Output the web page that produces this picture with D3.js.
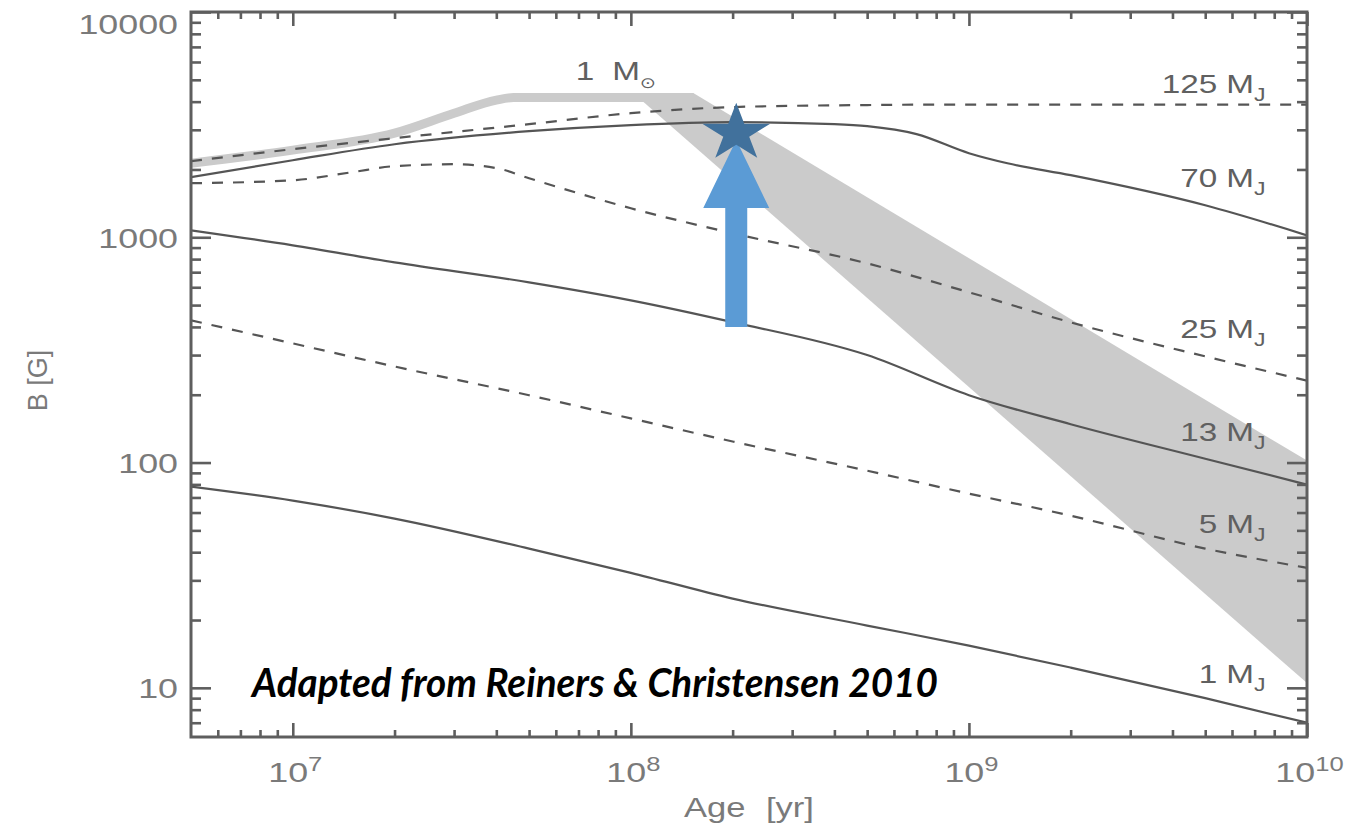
<!DOCTYPE html>
<html>
<head>
<meta charset="utf-8">
<script src="https://cdn.jsdelivr.net/npm/d3@7"></script>
<style>
  html, body { margin: 0; padding: 0; background: #ffffff; }
  svg { display: block; }
</style>
</head>
<body>
<svg id="chart" width="1354" height="830"></svg>
<script>
// ---- Field strength B [G] against age [yr] for objects of different mass ----
const ageGrid = [5e6, 1e7, 2e7, 5e7, 1e8, 2e8, 5e8, 1e9, 2e9, 5e9, 1e10];

const b1MJ  = [78.2, 67.8, 56.4, 41.5, 32.4, 24.9, 18.9, 15.4, 12.3, 9.0, 7.0];
const b5MJ  = [428, 338, 267, 199, 157, 124, 92, 72.8, 58.1, 41.5, 34.1];
const b13MJ = [1074, 921, 774, 631, 525, 420, 300, 199, 148, 104, 79.8];

const age25MJ = [5e6, 1e7, 1.5e7, 2e7, 3e7, 4e7, 5e7, 7e7, 1e8, 2e8, 5e8, 1e9, 2e9, 5e9, 1e10];
const b25MJ   = [1738, 1791, 1945, 2069, 2110, 2028, 1828, 1568, 1345, 1042, 766, 570, 419, 296, 231];

const age70MJ = [5e6, 1e7, 2e7, 5e7, 1e8, 2e8, 4e8, 5e8, 7e8, 1e9, 1.3e9, 2e9, 5e9, 1e10];
const b70MJ   = [1848, 2198, 2588, 2958, 3148, 3243, 3177, 3113, 2870, 2362, 2131, 1887, 1387, 1020];

const age125MJ = [5e6, 1e7, 2e7, 5e7, 1e8, 2e8, 5e8, 1e9, 1e10];
const b125MJ   = [2177, 2461, 2754, 3178, 3556, 3784, 3864, 3883, 3883];

// one solar mass track and its spin-down band
const ageSun = [5e6, 1e7, 2e7, 3e7, 4e7, 4.5e7, 1.53e8];
const bSun   = [2133, 2437, 2897, 3550, 4064, 4168, 4168];
const bandUpper = [[1.09e8, 4365], [1.53e8, 4365], [1e10, 102]];
const bandLower = [[1.09e8, 3981], [1e10, 10.5]];

// curve labels: mass and the field value at the label baseline
const labelMass = ["125", "70", "25", "13", "5", "1"];
const labelB    = [4365, 1668, 356, 125, 48.9, 10.5];
const labelAge  = 5.77e9;
const sunLabelAge = 8.81e7, sunLabelB = 4990;

// axis ticks
const xTickExponents = [7, 8, 9, 10];
const yTickLabels = [10, 100, 1000, 10000];

// highlighted object
const starAge = 2.05e8, starB = 2900;
const arrowFromB = 400, arrowToB = 2700;

const note = "Adapted from Reiners & Christensen 2010";

// ---- layout ----
const plot = { left: 191, right: 1307, top: 12, bottom: 737 };
const sx = 1.28;               // horizontal glyph stretch of the figure
const axisGrey = "#5e5e5e";
const lineGrey = "#555555";
const textGrey = "#7a7a7a";
const labelGrey = "#606060";
const bandGrey = "#cbcbcb";

const svg = d3.select("#chart");

const x = d3.scaleLog().domain([5e6, 1e10]).range([plot.left, plot.right]);
const y = d3.scaleLog().domain([6.05, 1e4]).range([plot.bottom, plot.top]);

svg.append("defs").append("clipPath").attr("id", "plotClip")
  .append("rect")
  .attr("x", plot.left).attr("y", plot.top)
  .attr("width", plot.right - plot.left).attr("height", plot.bottom - plot.top);

const plotArea = svg.append("g").attr("clip-path", "url(#plotClip)");

const line = d3.line()
  .x(d => x(d[0])).y(d => y(d[1]))
  .curve(d3.curveMonotoneX);
const straight = d3.line().x(d => x(d[0])).y(d => y(d[1]));

// spin-down band
const bandPts = bandUpper.concat(bandLower.slice().reverse());
plotArea.append("path")
  .attr("d", straight(bandPts) + "Z")
  .attr("fill", bandGrey);

// solar-mass track (thick, light)
plotArea.append("path")
  .attr("d", line(ageSun.map((a, i) => [a, bSun[i]])))
  .attr("fill", "none")
  .attr("stroke", bandGrey)
  .attr("stroke-width", 9)
  .attr("stroke-linecap", "butt");

// mass tracks
const tracks = [
  { ages: ageGrid,  b: b1MJ,   dashed: false },
  { ages: ageGrid,  b: b5MJ,   dashed: true },
  { ages: ageGrid,  b: b13MJ,  dashed: false },
  { ages: age25MJ,  b: b25MJ,  dashed: true },
  { ages: age70MJ,  b: b70MJ,  dashed: false },
  { ages: age125MJ, b: b125MJ, dashed: true }
];
tracks.forEach(t => {
  plotArea.append("path")
    .attr("d", line(t.ages.map((a, i) => [a, t.b[i]])))
    .attr("fill", "none")
    .attr("stroke", lineGrey)
    .attr("stroke-width", 2.2)
    .attr("stroke-dasharray", t.dashed ? "11,10" : null);
});

// ---- axes ----
const xMinor = [];
[1e6, 1e7, 1e8, 1e9].forEach(dec => {
  for (let k = 2; k <= 9; k++) {
    const v = dec * k;
    if (v > 5e6 && v < 1e10) xMinor.push(v);
  }
});
const xMajor = xTickExponents.map(e => Math.pow(10, e));

const yMinor = [];
[1, 10, 100, 1000].forEach(dec => {
  for (let k = 2; k <= 9; k++) {
    const v = dec * k;
    if (v > 6.05 && v < 1e4) yMinor.push(v);
  }
});

function styleAxis(g) {
  g.select(".domain").remove();
  g.selectAll(".tick line").attr("stroke", axisGrey).attr("stroke-width", 2.6);
  g.selectAll(".tick text").remove();
}

// bottom and top
svg.append("g").attr("transform", `translate(0,${plot.bottom})`)
  .call(d3.axisBottom(x).tickValues(xMinor).tickSize(-7).tickFormat("")).call(styleAxis);
const xAxisMajor = svg.append("g").attr("transform", `translate(0,${plot.bottom})`)
  .call(d3.axisBottom(x).tickValues(xMajor).tickSize(-14).tickFormat("")).call(styleAxis);
svg.append("g").attr("transform", `translate(0,${plot.top})`)
  .call(d3.axisTop(x).tickValues(xMinor).tickSize(-7).tickFormat("")).call(styleAxis);
svg.append("g").attr("transform", `translate(0,${plot.top})`)
  .call(d3.axisTop(x).tickValues(xMajor).tickSize(-14).tickFormat("")).call(styleAxis);

// left and right
svg.append("g").attr("transform", `translate(${plot.left},0)`)
  .call(d3.axisLeft(y).tickValues(yMinor).tickSize(-10).tickFormat("")).call(styleAxis);
const yAxisMajor = svg.append("g").attr("transform", `translate(${plot.left},0)`)
  .call(d3.axisLeft(y).tickValues(yTickLabels).tickSize(-20).tickFormat("")).call(styleAxis);
svg.append("g").attr("transform", `translate(${plot.right},0)`)
  .call(d3.axisRight(y).tickValues(yMinor).tickSize(-10).tickFormat("")).call(styleAxis);
svg.append("g").attr("transform", `translate(${plot.right},0)`)
  .call(d3.axisRight(y).tickValues(yTickLabels).tickSize(-20).tickFormat("")).call(styleAxis);

// frame
svg.append("rect")
  .attr("x", plot.left).attr("y", plot.top)
  .attr("width", plot.right - plot.left).attr("height", plot.bottom - plot.top)
  .attr("fill", "none").attr("stroke", axisGrey).attr("stroke-width", 3);

// text helper: horizontally stretched glyphs
function stretched(parent, px, py, size, anchor, color) {
  return parent.append("g")
    .attr("transform", `translate(${px},${py}) scale(${sx},1)`)
    .append("text")
    .attr("font-family", "'Liberation Sans', Arial, sans-serif")
    .attr("font-size", size)
    .attr("text-anchor", anchor)
    .attr("fill", color);
}

// x tick labels: 10^n
xAxisMajor.selectAll(".tick").each(function (d) {
  const t = stretched(d3.select(this), 2, 45, 28, "middle", textGrey);
  t.append("tspan").text("10");
  t.append("tspan").attr("font-size", 20).attr("dy", -11).text(Math.round(Math.log10(d)));
});

// y tick labels
yAxisMajor.selectAll(".tick").each(function (d) {
  const yy = y(d);
  const shift = Math.max(0, plot.top + 11 - yy);
  stretched(d3.select(this), -13, 10 + shift, 28, "end", textGrey).text(d);
});

// axis titles
const ageTitle = stretched(svg, (plot.left + plot.right) / 2, 817, 27, "middle", textGrey);
ageTitle.append("tspan").text("Age");
ageTitle.append("tspan").attr("dx", 16).text("[yr]");

svg.append("text")
  .attr("transform", `translate(47,${(plot.top + plot.bottom) / 2 + 6}) rotate(-90)`)
  .attr("font-family", "'Liberation Sans', Arial, sans-serif")
  .attr("font-size", 27)
  .attr("text-anchor", "middle")
  .attr("fill", textGrey)
  .text("B [G]");

// curve labels
labelMass.forEach((m, i) => {
  const lx = x(labelAge), ly = y(labelB[i]);
  stretched(svg, lx - 9, ly, 26, "end", labelGrey).text(m);
  const t = stretched(svg, lx, ly, 26, "start", labelGrey);
  t.append("tspan").text("M");
  t.append("tspan").attr("font-size", 18).attr("dy", 8).text("J");
});
{
  const lx = x(sunLabelAge), ly = y(sunLabelB);
  stretched(svg, lx - 18, ly, 26, "end", labelGrey).text("1");
  const t = stretched(svg, lx, ly, 26, "start", labelGrey);
  t.append("tspan").text("M");
  t.append("tspan").attr("font-family", "'DejaVu Sans', sans-serif")
    .attr("font-size", 15).attr("dy", 8).text("\u2299");
}

// ---- highlighted object: arrow and star ----
const ax = x(starAge), yb = y(arrowFromB), yt = y(arrowToB);
const shaftHalf = 11, headHalf = 33, headLen = 68;
const arrowPts = [
  [ax - shaftHalf, yb], [ax - shaftHalf, yt + headLen], [ax - headHalf, yt + headLen],
  [ax, yt], [ax + headHalf, yt + headLen], [ax + shaftHalf, yt + headLen], [ax + shaftHalf, yb]
];
svg.append("path")
  .attr("d", d3.line()(arrowPts) + "Z")
  .attr("fill", "#5b9bd5");

const cx = x(starAge), cy = y(starB);
const rx = 35.7, ry = 30.4, inner = 0.382;
const starPts = d3.range(10).map(k => {
  const ang = -Math.PI / 2 + k * Math.PI / 5;
  const r = k % 2 === 0 ? 1 : inner;
  return [cx + rx * r * Math.cos(ang), cy + ry * r * Math.sin(ang)];
});
svg.append("path")
  .attr("d", d3.line()(starPts) + "Z")
  .attr("fill", "#41719c");

// source note
svg.append("text")
  .attr("x", 252).attr("y", 697)
  .attr("font-family", "Lato, 'Open Sans', sans-serif")
  .attr("font-weight", "bold")
  .attr("font-style", "italic")
  .attr("font-size", 40)
  .attr("textLength", 686)
  .attr("lengthAdjust", "spacingAndGlyphs")
  .attr("fill", "#000000")
  .text(note);
</script>
</body>
</html>
